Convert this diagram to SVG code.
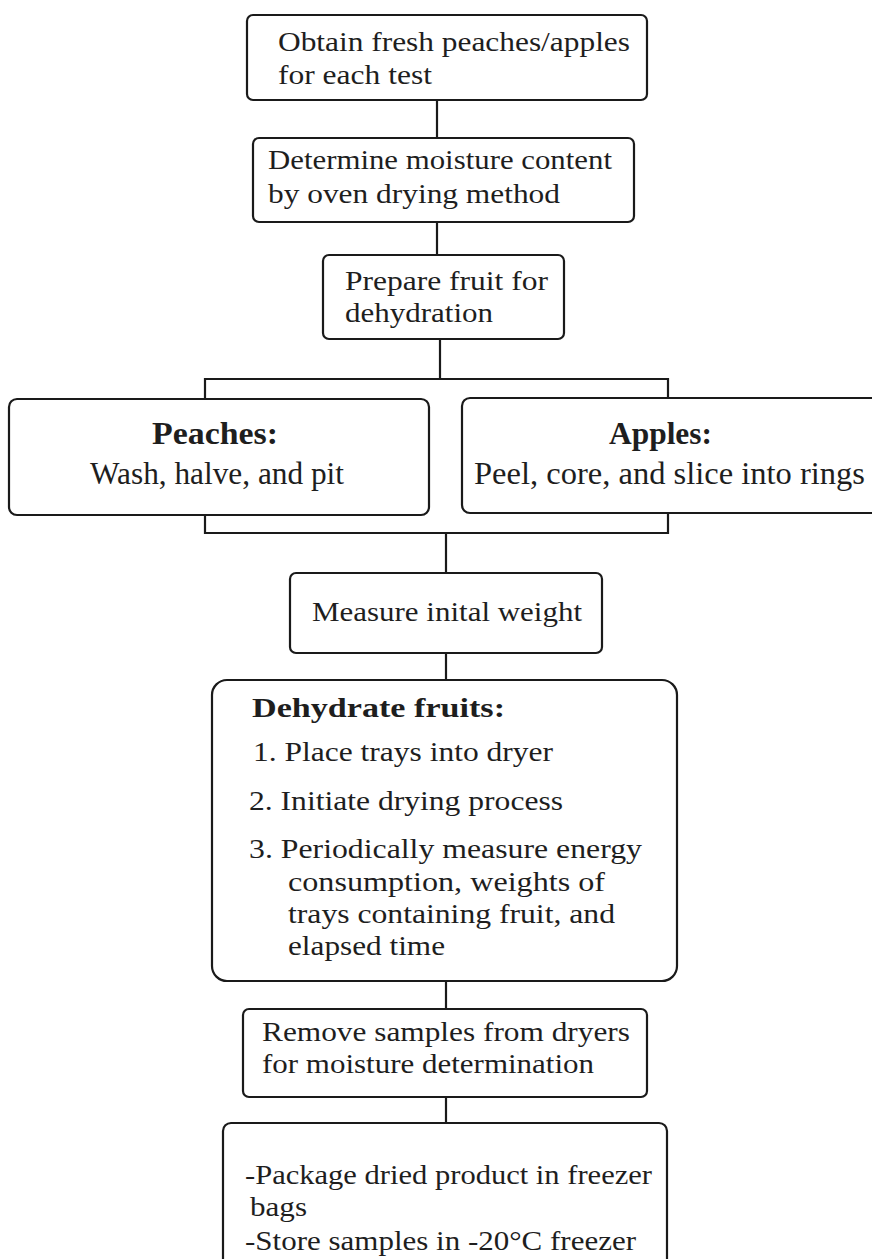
<svg xmlns="http://www.w3.org/2000/svg" width="872" height="1259" viewBox="0 0 872 1259">
<style>
.box{fill:#fff;stroke:#1a1a1a;stroke-width:2.2}
.ln{stroke:#1a1a1a;stroke-width:2.2;fill:none}
text{font-family:"Liberation Serif","Times New Roman",serif;font-size:28px;fill:#1e1e1e}
.b{font-weight:bold}
.lg{font-size:31px}
</style>
<rect width="872" height="1259" fill="#fff"/>
<g id="connectors">
<line class="ln" x1="437" y1="100" x2="437" y2="138"/>
<line class="ln" x1="437" y1="222" x2="437" y2="255"/>
<line class="ln" x1="440" y1="339" x2="440" y2="379"/>
<polyline class="ln" points="205,399 205,379 668,379 668,398"/>
<polyline class="ln" points="205,515 205,533 668,533 668,513"/>
<line class="ln" x1="446" y1="533" x2="446" y2="573"/>
<line class="ln" x1="446" y1="653" x2="446" y2="680"/>
<line class="ln" x1="446" y1="981" x2="446" y2="1009"/>
<line class="ln" x1="446" y1="1097" x2="446" y2="1123"/>
</g>
<g id="n1">
<rect class="box" x="247" y="15" width="400" height="85" rx="6"/>
<text x="278" y="51" textLength="352" lengthAdjust="spacingAndGlyphs">Obtain fresh peaches/apples</text>
<text x="278" y="84" textLength="154" lengthAdjust="spacingAndGlyphs">for each test</text>
</g>
<g id="n2">
<rect class="box" x="253" y="138" width="381" height="84" rx="6"/>
<text x="268" y="169" textLength="344" lengthAdjust="spacingAndGlyphs">Determine moisture content</text>
<text x="268" y="203" textLength="292" lengthAdjust="spacingAndGlyphs">by oven drying method</text>
</g>
<g id="n3">
<rect class="box" x="323" y="255" width="241" height="84" rx="6"/>
<text x="345" y="290" textLength="203" lengthAdjust="spacingAndGlyphs">Prepare fruit for</text>
<text x="345" y="322" textLength="148" lengthAdjust="spacingAndGlyphs">dehydration</text>
</g>
<g id="n4">
<rect class="box" x="9" y="399" width="420" height="116" rx="8"/>
<text class="b lg" x="152" y="444" textLength="126" lengthAdjust="spacingAndGlyphs">Peaches:</text>
<text class="lg" x="90" y="484" textLength="254" lengthAdjust="spacingAndGlyphs">Wash, halve, and pit</text>
</g>
<g id="n5">
<rect class="box" x="462" y="398" width="420" height="115" rx="8"/>
<text class="b lg" x="609" y="444" textLength="103" lengthAdjust="spacingAndGlyphs">Apples:</text>
<text class="lg" x="474" y="484" textLength="391" lengthAdjust="spacingAndGlyphs">Peel, core, and slice into rings</text>
</g>
<g id="n6">
<rect class="box" x="290" y="573" width="312" height="80" rx="6"/>
<text x="312" y="621" textLength="270" lengthAdjust="spacingAndGlyphs">Measure inital weight</text>
</g>
<g id="n7">
<rect class="box" x="212" y="680" width="465" height="301" rx="15"/>
<text class="b" x="252" y="717" textLength="253" lengthAdjust="spacingAndGlyphs">Dehydrate fruits:</text>
<text x="253" y="761" textLength="300" lengthAdjust="spacingAndGlyphs">1. Place trays into dryer</text>
<text x="249" y="810" textLength="314" lengthAdjust="spacingAndGlyphs">2. Initiate drying process</text>
<text x="249" y="858" textLength="393" lengthAdjust="spacingAndGlyphs">3. Periodically measure energy</text>
<text x="288" y="891" textLength="317" lengthAdjust="spacingAndGlyphs">consumption, weights of</text>
<text x="288" y="923" textLength="327" lengthAdjust="spacingAndGlyphs">trays containing fruit, and</text>
<text x="288" y="955" textLength="157" lengthAdjust="spacingAndGlyphs">elapsed time</text>
</g>
<g id="n8">
<rect class="box" x="243" y="1009" width="404" height="88" rx="6"/>
<text x="262" y="1041" textLength="368" lengthAdjust="spacingAndGlyphs">Remove samples from dryers</text>
<text x="262" y="1073" textLength="332" lengthAdjust="spacingAndGlyphs">for moisture determination</text>
</g>
<g id="n9">
<rect class="box" x="223" y="1123" width="444" height="160" rx="8"/>
<text x="245" y="1184" textLength="407" lengthAdjust="spacingAndGlyphs">-Package dried product in freezer</text>
<text x="250" y="1216" textLength="57" lengthAdjust="spacingAndGlyphs">bags</text>
<text x="245" y="1250" textLength="391" lengthAdjust="spacingAndGlyphs">-Store samples in -20°C freezer</text>
</g>
</svg>
